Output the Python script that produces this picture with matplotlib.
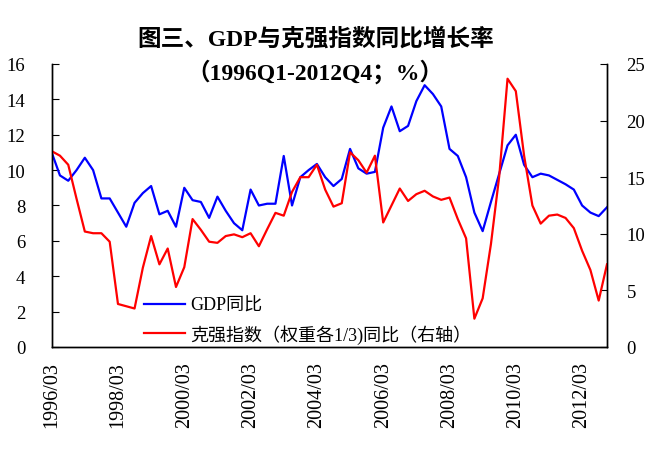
import matplotlib
matplotlib.use("Agg")
import matplotlib.pyplot as plt
from matplotlib.lines import Line2D

plt.rcParams['font.family'] = ['Liberation Serif', 'Noto Sans CJK SC', 'DejaVu Sans']

quarters = [f"{y}/{m:02d}" for y in range(1996, 2013) for m in (3, 6, 9, 12)]

gdp = [11.0, 9.7, 9.4, 10.0, 10.7, 10.0, 8.4, 8.4, 7.6, 6.8,
       8.15, 8.7, 9.1, 7.5, 7.7, 6.8, 9.0, 8.3, 8.2, 7.3,
       8.5, 7.7, 7.0, 6.6, 8.9, 8.0, 8.1, 8.1, 10.8, 8.0,
       9.6, 10.0, 10.35, 9.6, 9.1, 9.5, 11.2, 10.1, 9.8, 9.9,
       12.4, 13.6, 12.2, 12.5, 13.9, 14.8, 14.3, 13.6, 11.2, 10.8,
       9.6, 7.6, 6.55, 8.2, 9.8, 11.4, 12.0, 10.3, 9.6, 9.8,
       9.7, 9.45, 9.2, 8.9, 8.0, 7.6, 7.4, 7.9]

keqiang = [17.3, 16.9, 16.1, 13.1, 10.2, 10.05, 10.05, 9.3, 3.8, 3.6,
           3.4, 7.0, 9.8, 7.3, 8.7, 5.3, 7.05, 11.3, 10.35, 9.3,
           9.2, 9.8, 9.95, 9.7, 10.05, 8.9, 10.4, 11.85, 11.6, 13.7,
           15.0, 15.0, 16.1, 13.9, 12.4, 12.7, 17.2, 16.5, 15.4, 16.9,
           11.0, 12.5, 14.0, 12.9, 13.5, 13.8, 13.3, 13.0, 13.2, 11.3,
           9.6, 2.5, 4.3, 9.1, 15.1, 23.7, 22.6, 16.9, 12.5, 10.9,
           11.6, 11.7, 11.4, 10.5, 8.5, 6.8, 4.1, 7.3]

title = "图三、GDP与克强指数同比增长率\n（1996Q1-2012Q4；%）"
label_gdp = "GDP同比"
label_kq = "克强指数（权重各1/3)同比（右轴）"

fig = plt.figure(figsize=(6.71, 4.60), dpi=100)
ax = fig.add_axes([0.077, 0.2435, 0.8276, 0.6152])
ax2 = ax.twinx()

x = list(range(len(quarters)))
ax.plot(x, gdp, color='#0000FF', lw=1.6)
ax2.plot(x, keqiang, color='#FF0000', lw=1.6)

ax.set_xlim(0, len(quarters) - 1)
ax.set_ylim(0, 16)
ax.set_yticks(range(0, 17, 2))
ax2.set_ylim(0, 25)
ax2.set_yticks(range(0, 26, 5))

tick_idx = list(range(0, len(quarters), 8))
ax.set_xticks(tick_idx)
ax.set_xticklabels([quarters[i] for i in tick_idx], rotation=90, fontsize=14.5)
ax.tick_params(axis='x', length=0, pad=10)
ax.tick_params(axis='y', direction='in', length=5, labelsize=13.5, pad=19)
ax2.tick_params(axis='y', direction='in', length=5, labelsize=13.5, pad=14)

for a in (ax, ax2):
    a.spines['top'].set_visible(False)
    for s in ('left', 'right', 'bottom'):
        a.spines[s].set_color('black')
        a.spines[s].set_linewidth(1.0)

handles = [Line2D([], [], color='#0000FF', lw=1.6), Line2D([], [], color='#FF0000', lw=1.6)]
ax2.legend(handles, [label_gdp, label_kq], loc='upper left',
           bbox_to_anchor=(0.153, 0.202), frameon=False, fontsize=13,
           handlelength=2.3, handletextpad=0.28, labelspacing=0.55, borderaxespad=0)

fig.text(0.47, 0.94, title, ha='center', va='top', fontsize=17, fontweight='bold',
         linespacing=1.5)

fig.savefig("out.png", dpi=100)
